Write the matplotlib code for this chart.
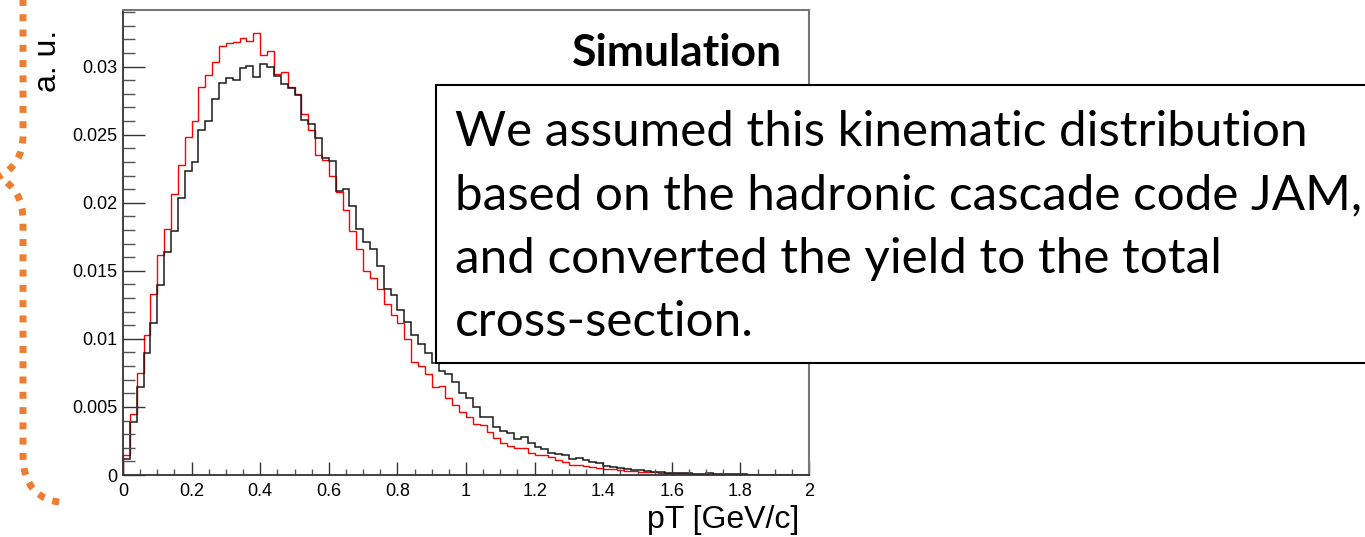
import numpy as np
import matplotlib
matplotlib.use("Agg")
import matplotlib.pyplot as plt
from matplotlib.path import Path
from matplotlib.patches import PathPatch, Rectangle
from matplotlib.ticker import FixedLocator, MultipleLocator, FixedFormatter

# pT bins, 0 - 2 GeV/c in 0.02 steps
bin_edges = np.linspace(0, 2, 101)

# black histogram (units of 1e-3)
black_vals = [1.18, 3.92, 6.49, 8.94, 11.19, 13.96, 16.36, 17.95, 20.37, 22.36,
              23.0, 25.35, 26.03, 27.65, 28.78, 29.19, 29.0, 29.93, 30.08, 29.27,
              30.2, 30.0, 29.3, 28.7, 28.4, 27.9, 26.1, 25.75, 24.77, 23.3,
              23.1, 20.9, 21.0, 19.76, 18.07, 17.1, 16.58, 15.38, 13.64, 13.23,
              12.12, 11.27, 10.29, 9.6, 8.99, 8.2, 7.66, 7.42, 6.86, 6.0,
              5.63, 5.02, 4.29, 4.24, 3.55, 3.26, 3.11, 2.62, 2.77, 2.37,
              2.04, 1.89, 1.59, 1.56, 1.44, 1.15, 1.22, 1.1, 0.98, 0.91,
              0.66, 0.61, 0.49, 0.44, 0.37, 0.37, 0.32, 0.24, 0.24, 0.17,
              0.17, 0.12, 0.12, 0.07, 0.07, 0.12, 0.05, 0.05, 0.05, 0.04,
              0.04, 0.03, 0.03, 0.02, 0.02, 0.01, 0.0, 0.0, 0.0, 0.0]

# red histogram (units of 1e-3)
red_vals = [1.45, 4.48, 7.52, 10.29, 13.28, 16.16, 18.05, 20.67, 22.8, 24.83,
            26.03, 28.53, 29.39, 30.35, 31.55, 31.77, 31.8, 32.1, 31.9, 32.5,
            30.87, 31.15, 29.43, 29.6, 28.5, 28.0, 26.5, 25.33, 23.53, 23.12,
            22.0, 20.8, 19.5, 17.95, 16.6, 15.0, 14.45, 13.64, 12.56, 11.76,
            11.15, 9.97, 8.28, 8.03, 7.4, 6.44, 6.54, 5.63, 5.14, 4.65,
            4.29, 3.72, 3.67, 3.18, 2.69, 2.37, 2.13, 1.96, 1.96, 1.59,
            1.47, 1.47, 1.35, 1.1, 0.93, 0.73, 0.73, 0.66, 0.56, 0.54,
            0.44, 0.44, 0.37, 0.32, 0.29, 0.24, 0.2, 0.2, 0.15, 0.15,
            0.12, 0.12, 0.12, 0.07, 0.07, 0.07, 0.07, 0.07, 0.05, 0.05,
            0.1, 0.03, 0.02, 0.02, 0.01, 0.01, 0.0, 0.0, 0.0, 0.0]

ytick_vals = [0, 0.005, 0.01, 0.015, 0.02, 0.025, 0.03]
ytick_labels = ["0", "0.005", "0.01", "0.015", "0.02", "0.025", "0.03"]
xtick_vals = [0, 0.2, 0.4, 0.6, 0.8, 1, 1.2, 1.4, 1.6, 1.8, 2]
xtick_labels = ["0", "0.2", "0.4", "0.6", "0.8", "1", "1.2", "1.4", "1.6", "1.8", "2"]

note_lines = ["We assumed this kinematic distribution",
              "based on the hadronic cascade code JAM,",
              "and converted the yield to the total",
              "cross-section."]

W, H = 1365, 537
fig = plt.figure(figsize=(W / 100, H / 100), dpi=100)

def fx(x):
    return x / W

def fy(y):
    return 1 - y / H

ax = fig.add_axes([fx(123), fy(475), fx(809) - fx(123), fy(10) - fy(475)])

ax.stairs(np.array(red_vals) * 1e-3, bin_edges, color="#ff0000", lw=1.0)
ax.stairs(np.array(black_vals) * 1e-3, bin_edges, color="#1a1a1a", lw=1.1)

ax.set_xlim(0, 2)
ax.set_ylim(0, 0.03416)

ax.yaxis.set_major_locator(FixedLocator(ytick_vals))
ax.yaxis.set_major_formatter(FixedFormatter(ytick_labels))
ax.yaxis.set_minor_locator(MultipleLocator(0.001))
ax.xaxis.set_major_locator(FixedLocator(xtick_vals))
ax.xaxis.set_major_formatter(FixedFormatter(xtick_labels))
ax.xaxis.set_minor_locator(MultipleLocator(0.05))

ax.tick_params(axis="y", which="major", direction="in", length=15.8, width=1.0,
               color="#333333", labelsize=13, pad=4)
ax.tick_params(axis="y", which="minor", direction="in", length=8.6, width=1.0,
               color="#555555")
ax.tick_params(axis="x", which="major", direction="in", length=9.4, width=1.0,
               color="#333333", labelsize=13, pad=6)
ax.tick_params(axis="x", which="minor", direction="in", length=4.3, width=1.0,
               color="#555555")
for lab in ax.get_xticklabels() + ax.get_yticklabels():
    lab.set_fontfamily("Liberation Sans")

for side in ["left", "bottom"]:
    ax.spines[side].set_color("#333333")
    ax.spines[side].set_linewidth(1.3)
for side in ["top", "right"]:
    ax.spines[side].set_color("#777777")
    ax.spines[side].set_linewidth(1.5)

ax.text(0.9606, 0.9075, "Simulation", transform=ax.transAxes, ha="right", va="center",
        fontsize=32, fontweight="bold", family="Lato")

fig.text(fx(799), fy(520), "pT [GeV/c]", ha="right", va="center",
         fontsize=23, family="Liberation Sans")
fig.text(fx(48), fy(30), "a. u.", ha="center", va="top", rotation=90,
         fontsize=23, family="Liberation Sans")

# note box over the plot
fig.add_artist(Rectangle((fx(436), fy(363)), fx(1420) - fx(436), fy(85) - fy(363),
                         transform=fig.transFigure, facecolor="white",
                         edgecolor="black", lw=1.5, zorder=5))
fig.text(fx(455), fy(110), "\n".join(note_lines), ha="left", va="top",
         fontsize=35.6, family="Lato", linespacing=1.54, zorder=6)

# orange dotted brace on the left
verts = [(23, -10), (23, 135), (23, 165), (-2, 177), (23, 189), (23, 220),
         (23, 455), (23, 500), (65, 503)]
codes = [Path.MOVETO, Path.LINETO, Path.CURVE3, Path.CURVE3, Path.CURVE3, Path.CURVE3,
         Path.LINETO, Path.CURVE3, Path.CURVE3]
brace = Path([(fx(x), fy(y)) for x, y in verts], codes)
fig.add_artist(PathPatch(brace, transform=fig.transFigure, facecolor="none",
                         edgecolor="#ED7D31", lw=5.0, linestyle=(0, (1, 1.2)),
                         capstyle="butt", zorder=4))

fig.savefig("out.png", dpi=100)
